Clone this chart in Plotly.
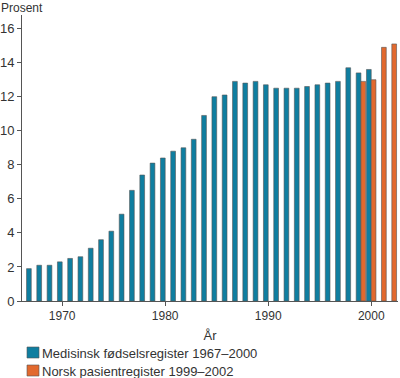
import plotly.graph_objects as go

years_mfr = list(range(1967, 2001))
values_mfr = [1.9, 2.1, 2.1, 2.3, 2.5, 2.6, 3.1, 3.6, 4.1, 5.1, 6.5, 7.4, 8.1, 8.4, 8.8,
              9.0, 9.5, 10.9, 12.0, 12.1, 12.9, 12.8, 12.9, 12.7, 12.5, 12.5, 12.5, 12.6,
              12.7, 12.8, 12.9, 13.7, 13.4, 13.6]
years_npr = [1999, 2000, 2001, 2002]
values_npr = [12.9, 13.0, 14.9, 15.1]

name_mfr = "Medisinsk fødselsregister 1967–2000"
name_npr = "Norsk pasientregister 1999–2002"
y_ticks = [0, 2, 4, 6, 8, 10, 12, 14, 16]
x_ticks = [1970, 1980, 1990, 2000]

blue = "#0f7ea0"
orange = "#e2692e"
outline = "#555"
font = "Liberation Sans, Arial, sans-serif"

W, H = 400, 378
ML, MR, MT, MB = 22, 2, 15, 77
PW, PH = W - ML - MR, H - MT - MB


def px_x(x):
    return (x - ML) / PW


def px_y(y):
    return (H - MB - y) / PH


fig = go.Figure()
fig.add_trace(go.Bar(x=years_mfr, y=values_mfr, name=name_mfr,
                     marker=dict(color=blue, line=dict(color=outline, width=0.6)),
                     offsetgroup="a"))
fig.add_trace(go.Bar(x=years_npr, y=values_npr, name=name_npr,
                     marker=dict(color=orange, line=dict(color=outline, width=0.6)),
                     offsetgroup="b"))

shapes = []
annotations = [dict(text="Prosent", xref="paper", yref="paper", x=px_x(-1), y=px_y(-1),
                    xanchor="left", yanchor="top", showarrow=False,
                    font=dict(size=12, color="#333"))]
for (name, color, top) in [(name_mfr, blue, 347), (name_npr, orange, 365)]:
    shapes.append(dict(type="rect", xref="paper", yref="paper",
                       x0=px_x(27), x1=px_x(39), y0=px_y(top), y1=px_y(top + 11),
                       fillcolor=color, line=dict(color=outline, width=0.6)))
    annotations.append(dict(text=name, xref="paper", yref="paper",
                            x=px_x(40), y=px_y(top + 6), xanchor="left", yanchor="middle",
                            showarrow=False, font=dict(size=13, color="#333")))

fig.update_layout(
    width=W, height=H,
    margin=dict(l=ML, r=MR, t=MT, b=MB, autoexpand=False),
    barmode="group", bargap=0.08, bargroupgap=0,
    paper_bgcolor="white", plot_bgcolor="white",
    font=dict(family=font, size=12, color="#333"),
    showlegend=False,
    xaxis=dict(range=[1966.1, 2002.6], tickvals=x_ticks, ticks="outside", ticklen=4,
               tickcolor=outline, showline=True, linecolor=outline, linewidth=1,
               showgrid=False, zeroline=False, automargin=False,
               title=dict(text="År", font=dict(size=13), standoff=8)),
    yaxis=dict(range=[0, 16.8], tickvals=y_ticks, ticks="outside", ticklen=4,
               tickcolor=outline, showline=True, linecolor=outline, linewidth=1,
               showgrid=False, zeroline=False, tickfont=dict(size=13), automargin=False),
    shapes=shapes,
    annotations=annotations,
)

fig.write_html("out.html", config={"displayModeBar": False},
               post_script="document.body.style.margin='0';")
